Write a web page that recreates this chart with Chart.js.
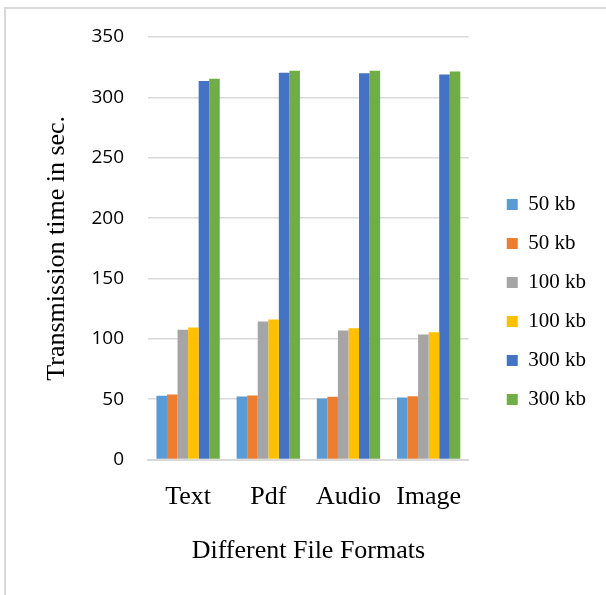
<!DOCTYPE html>
<html>
<head>
<meta charset="utf-8">
<script src="https://cdn.jsdelivr.net/npm/chart.js@4/dist/chart.umd.min.js"></script>
<style>
  html, body { margin: 0; padding: 0; background: #fff; overflow: hidden; }
  #frame { position: absolute; left: 4px; top: 7px; width: 700px; height: 700px;
           border-left: 2px solid #d9d9d9; border-top: 2px solid #d9d9d9; }
  #wrap { position: absolute; left: 0; top: 0; width: 606px; height: 595px; }
</style>
</head>
<body>
<div id="frame"></div>
<div id="wrap"><canvas id="chart" width="606" height="595"></canvas></div>
<script>
// File formats on the x axis
const categories = ['Text', 'Pdf', 'Audio', 'Image'];

// Transmission time (seconds) for each file size, two runs each
const seriesNames = ['50 kb', '50 kb', '100 kb', '100 kb', '300 kb', '300 kb'];
const kb50a  = [52.8, 52.2, 50.6, 51.4];
const kb50b  = [53.9, 53.0, 52.0, 52.5];
const kb100a = [107.5, 114.4, 106.9, 103.6];
const kb100b = [109.4, 116.0, 108.8, 105.5];
const kb300a = [313.6, 320.3, 320.0, 319.0];
const kb300b = [315.5, 322.0, 322.0, 321.5];

const yTicks = [0, 50, 100, 150, 200, 250, 300, 350];

const colors = ['#5B9BD5', '#ED7D31', '#A5A5A5', '#FFC000', '#4472C4', '#70AD47'];
const seriesValues = [kb50a, kb50b, kb100a, kb100b, kb300a, kb300b];

const serif = '"Liberation Serif", "Times New Roman", serif';

new Chart(document.getElementById('chart'), {
  type: 'bar',
  data: {
    labels: categories,
    datasets: seriesValues.map((vals, i) => ({
      label: seriesNames[i],
      data: vals,
      backgroundColor: colors[i],
      borderWidth: 0,
      categoryPercentage: 0.79,
      barPercentage: 1.0
    }))
  },
  options: {
    responsive: false,
    animation: false,
    layout: { padding: { left: 42, top: 37, right: 10, bottom: 28 } },
    plugins: {
      tooltip: { enabled: false },
      legend: {
        position: 'right',
        maxWidth: 200,
        labels: {
          boxWidth: 11,
          boxHeight: 11,
          padding: 18,
          color: '#000',
          font: { family: serif, size: 21 }
        }
      }
    },
    scales: {
      y: {
        min: 0,
        max: 350,
        afterBuildTicks: (axis) => { axis.ticks = yTicks.map(v => ({ value: v })); },
        afterFit: (scale) => { scale.width = 106; },
        grid: { color: '#d9d9d9', lineWidth: 1.5, drawTicks: false },
        border: { display: false },
        ticks: {
          padding: 24,
          color: '#000',
          font: { family: '"Open Sans", sans-serif', size: 19 }
        },
        title: {
          display: true,
          text: 'Transmission time in sec.',
          color: '#000',
          font: { family: serif, size: 26 },
          padding: { top: 0, bottom: 0 }
        }
      },
      // empty spacer between the plot and the legend
      gap: {
        type: 'linear',
        position: 'right',
        display: true,
        grid: { display: false },
        border: { display: false },
        ticks: { display: false },
        afterFit: (scale) => { scale.width = 20; }
      },
      x: {
        grid: { display: false, drawTicks: false },
        border: { display: true, color: '#d9d9d9', width: 2 },
        ticks: {
          padding: 22,
          color: '#000',
          font: { family: serif, size: 26 }
        },
        title: {
          display: true,
          text: 'Different File Formats',
          color: '#000',
          font: { family: serif, size: 26 },
          padding: { top: 1, bottom: 0 }
        }
      }
    }
  }
});
</script>
</body>
</html>
